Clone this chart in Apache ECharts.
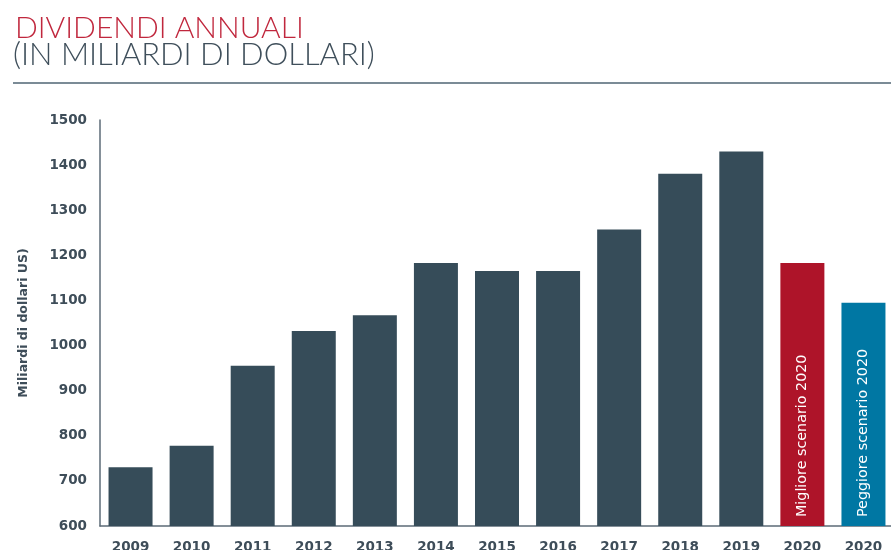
<!DOCTYPE html>
<html>
<head>
<meta charset="utf-8">
<script src="https://cdn.jsdelivr.net/npm/echarts@6/dist/echarts.min.js"></script>
<style>
  html, body { margin: 0; padding: 0; background: #ffffff; }
  #chart { width: 891px; height: 550px; }
</style>
</head>
<body>
<div id="chart"></div>
<script>
// Annual dividends, billions of US dollars
const years = ['2009', '2010', '2011', '2012', '2013', '2014', '2015', '2016', '2017', '2018', '2019', '2020', '2020'];
const dividends = [730, 778, 955, 1032, 1067, 1183, 1165, 1165, 1257, 1381, 1430, 1183, 1095];
const barColors = ['#364c59', '#364c59', '#364c59', '#364c59', '#364c59', '#364c59', '#364c59',
                   '#364c59', '#364c59', '#364c59', '#364c59', '#ae1429', '#0077a3'];
const barLabels = ['', '', '', '', '', '', '', '', '', '', '', 'Migliore scenario 2020', 'Peggiore scenario 2020'];
const yTicks = { min: 600, max: 1500, interval: 100 };

const textColor = '#3e4d59';
const axisColor = '#5c6b77';
const labelFont = 'DejaVu Sans';

const chart = echarts.init(document.getElementById('chart'));

const seriesData = dividends.map((v, i) => ({
  value: v,
  itemStyle: { color: barColors[i] },
  label: barLabels[i] ? {
    show: true,
    formatter: barLabels[i],
    position: 'insideBottom',
    rotate: 90,
    align: 'left',
    verticalAlign: 'middle',
    distance: 9,
    color: '#ffffff',
    fontFamily: labelFont,
    fontSize: 14.3
  } : { show: false }
}));

chart.setOption({
  animation: false,
  backgroundColor: '#ffffff',
  graphic: [
    {
      type: 'text', left: 15, top: 13,
      style: { text: 'DIVIDENDI ANNUALI', fill: '#c0273d', font: '300 30px Lato' }
    },
    {
      type: 'text', left: 13, top: 39,
      style: { text: '(IN MILIARDI DI DOLLARI)', fill: '#3f4f5b', font: '300 31px Lato' }
    },
    {
      type: 'line',
      shape: { x1: 13, y1: 83, x2: 891, y2: 83 },
      style: { stroke: '#7b8b96', lineWidth: 2 }
    }
  ],
  grid: { left: 100, top: 120, width: 794, height: 406, outerBoundsMode: 'none', containLabel: false },
  xAxis: {
    type: 'category',
    data: years,
    axisLine: { show: true, lineStyle: { color: axisColor, width: 1.5 } },
    axisTick: { show: false },
    axisLabel: {
      color: textColor, fontFamily: labelFont, fontWeight: 'bold', fontSize: 13.5, margin: 14, interval: 0
    }
  },
  yAxis: {
    type: 'value',
    min: yTicks.min, max: yTicks.max, interval: yTicks.interval,
    name: 'Miliardi di dollari US)',
    nameLocation: 'middle',
    nameGap: 70,
    nameTextStyle: { color: textColor, fontFamily: labelFont, fontWeight: 'bold', fontSize: 12.5 },
    axisLine: { show: true, lineStyle: { color: axisColor, width: 1.5 } },
    axisTick: { show: false },
    splitLine: { show: false },
    axisLabel: {
      color: textColor, fontFamily: labelFont, fontWeight: 'bold', fontSize: 13.5, margin: 13,
      formatter: v => String(v)
    }
  },
  series: [{
    type: 'bar',
    data: seriesData,
    barWidth: 44
  }]
});
</script>
</body>
</html>
